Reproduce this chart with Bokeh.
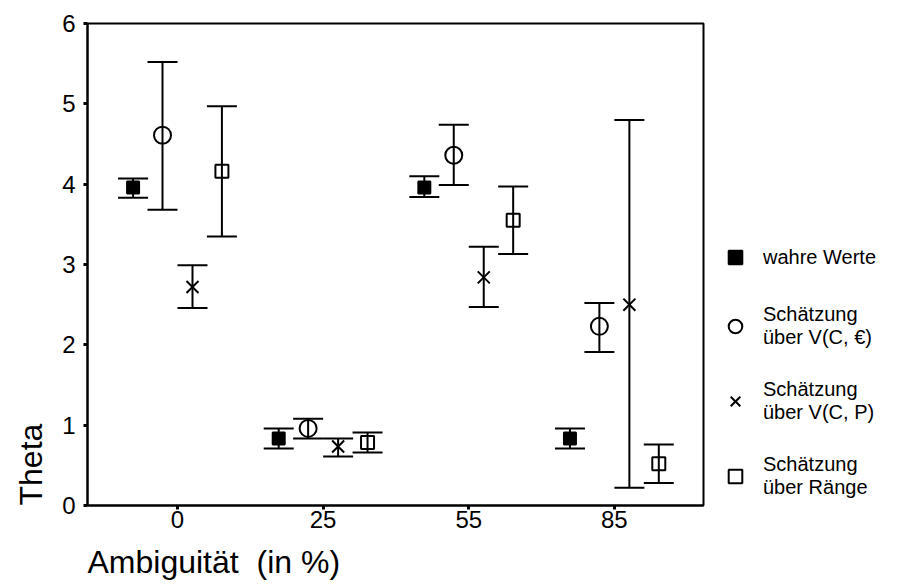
from bokeh.plotting import figure
from bokeh.models import (Range1d, FixedTicker, Whisker, TeeHead, ColumnDataSource,
                          Legend, LegendItem, Title)
from bokeh.layouts import row
from bokeh.embed import file_html
from bokeh.resources import INLINE

# ---------------- data ----------------
categories = ["0", "25", "55", "85"]

true_mean = [3.96, 0.835, 3.96, 0.835]
true_lo = [3.83, 0.71, 3.84, 0.71]
true_hi = [4.07, 0.96, 4.10, 0.96]

ceur_mean = [4.61, 0.96, 4.36, 2.23]
ceur_lo = [3.68, 0.835, 3.99, 1.91]
ceur_hi = [5.52, 1.08, 4.74, 2.52]

cp_mean = [2.72, 0.735, 2.84, 2.50]
cp_lo = [2.46, 0.61, 2.47, 0.22]
cp_hi = [2.99, 0.835, 3.22, 4.80]

rank_mean = [4.16, 0.785, 3.55, 0.52]
rank_lo = [3.35, 0.66, 3.13, 0.28]
rank_hi = [4.97, 0.91, 3.97, 0.76]

series_labels = ["wahre Werte", "Schätzung\nüber V(C, €)",
                 "Schätzung\nüber V(C, P)", "Schätzung\nüber Ränge"]
y_ticks = [0, 1, 2, 3, 4, 5, 6]
x_title = "Ambiguität\u00a0 (in %)"
y_title = "Theta"

FONT = "Liberation Sans"

p = figure(frame_width=616, frame_height=482, output_backend="svg",
           toolbar_location=None,
           x_range=Range1d(-0.618, 3.612), y_range=Range1d(0, 6),
           min_border_left=87, min_border_right=2, min_border_top=23,
           min_border_bottom=79)
p.xgrid.visible = False
p.ygrid.visible = False
p.outline_line_color = "black"
p.outline_line_width = 2
p.background_fill_color = "white"
p.border_fill_color = "white"

series = [
    (true_mean, true_lo, true_hi, -0.305, "square", 12, "black", 1.0),
    (ceur_mean, ceur_lo, ceur_hi, -0.103, "circle", 17, "white", 0.0),
    (cp_mean, cp_lo, cp_hi, 0.103, "x", 17, "white", 0.0),
    (rank_mean, rank_lo, rank_hi, 0.305, "square", 13, "white", 0.0),
]

# legend panel (separate figure to the right of the chart); its view range
# lies far away from the data so only the legend itself is visible there
lf = figure(width=194, height=584, output_backend="svg", toolbar_location=None,
            x_range=Range1d(100, 101), y_range=Range1d(100, 101),
            x_axis_type=None, y_axis_type=None, min_border=0)
lf.xgrid.visible = False
lf.ygrid.visible = False
lf.outline_line_color = None
lf.background_fill_color = "white"
lf.border_fill_color = "white"

items = []
for (mean, lo, hi, off, marker, size, fill, falpha), label in zip(series, series_labels):
    xs = [i + off for i in range(len(categories))]
    src = ColumnDataSource(dict(x=xs, y=mean, lo=lo, hi=hi))
    w = Whisker(base="x", upper="hi", lower="lo", source=src,
                line_color="black", line_width=2,
                upper_head=TeeHead(size=30, line_width=2, line_color="black"),
                lower_head=TeeHead(size=30, line_width=2, line_color="black"))
    p.add_layout(w)
    p.scatter("x", "y", source=src, marker=marker, size=size,
              line_color="black", line_width=2, fill_color=fill,
              fill_alpha=falpha)
    lsrc = ColumnDataSource(dict(x=xs, y=mean))
    lr = lf.scatter("x", "y", source=lsrc, marker=marker, size=size,
                    line_color="black", line_width=2, fill_color=fill,
                    fill_alpha=falpha)
    items.append(LegendItem(label=label, renderers=[lr]))

# axes
for ax in (p.xaxis[0], p.yaxis[0]):
    ax.axis_line_color = "black"
    ax.axis_line_width = 2
    ax.major_tick_in = 0
    ax.major_tick_out = 4
    ax.major_tick_line_width = 3
    ax.major_tick_line_color = "black"
    ax.minor_tick_line_color = None
    ax.major_label_text_font = FONT
    ax.major_label_text_font_size = "24px"
    ax.major_label_text_color = "black"

p.xaxis.ticker = FixedTicker(ticks=list(range(len(categories))))
p.xaxis.major_label_overrides = {i: c for i, c in enumerate(categories)}
p.xaxis.major_label_standoff = 1

p.yaxis.ticker = FixedTicker(ticks=y_ticks)
p.yaxis.major_label_standoff = 8

p.add_layout(Title(text=x_title, align="left", text_font=FONT,
                   text_font_size="32px", text_font_style="normal",
                   text_color="black", standoff=22), "below")
p.add_layout(Title(text=y_title, align="left", text_font=FONT,
                   text_font_size="32px", text_font_style="normal",
                   text_color="black", standoff=21), "left")

legend = Legend(items=items, location=(13, 0), orientation="vertical",
                border_line_color=None, background_fill_alpha=0,
                padding=0, margin=0, spacing=29,
                glyph_width=34, glyph_height=34, label_standoff=11,
                label_text_font=FONT, label_text_font_size="20px",
                label_text_color="black", label_text_line_height=1.05)
lf.add_layout(legend)

layout = row(p, lf, spacing=0)
open("out.html", "w").write(file_html(layout, INLINE))
